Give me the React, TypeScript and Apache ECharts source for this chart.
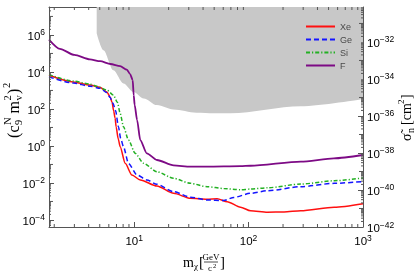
import React, { useEffect, useRef } from 'react';
import * as echarts from 'echarts';

// ---- data ----
const massXe = [1.8, 2.94, 4.11, 5.04, 5.77, 6.16, 6.41, 6.61, 6.81, 6.95, 7.24, 7.54, 8.34, 9.55, 11.3, 15.8, 22.1, 31, 43.4, 53.1, 65, 85, 104, 146, 204, 286, 560, 1000];
const limitXe = [6600, 2900, 1950, 1450, 832, 447, 224, 79.4, 31.6, 11.0, 2.51, 0.912, 0.115, 0.0269, 0.0145, 0.00676, 0.00275, 0.00148, 0.00132, 0.00141, 0.000977, 0.00049, 0.000316, 0.000263, 0.000269, 0.000316, 0.00049, 0.000759];

const massGe = [1.8, 2.94, 4.11, 5.04, 5.77, 6.16, 6.54, 6.88, 7.28, 7.62, 8.06, 8.91, 10.6, 12.9, 15.8, 22.1, 31, 43.4, 60.7, 74.3, 104, 146, 286, 560, 1000];
const limitGe = [5400, 2500, 1700, 1300, 759, 417, 200, 79.4, 11.0, 2.51, 0.912, 0.115, 0.0269, 0.0145, 0.00851, 0.00339, 0.0017, 0.0012, 0.00112, 0.00166, 0.00275, 0.0038, 0.0063, 0.00955, 0.012];

const massSi = [1.8, 2.94, 4.11, 4.71, 5.77, 6.58, 7.14, 7.54, 8.06, 8.91, 10.2, 12.1, 15.8, 22.1, 31, 43.4, 60.7, 85, 104, 146, 286, 560, 1000];
const limitSi = [7200, 3200, 2200, 1700, 1050, 562, 224, 57.5, 11.0, 2.09, 0.398, 0.115, 0.0407, 0.0178, 0.00955, 0.0063, 0.005, 0.00427, 0.00468, 0.0055, 0.0087, 0.0132, 0.0186];

const massF = [1.8, 2.24, 3.0, 4.1, 5.04, 6.2, 7.54, 8.63, 9.22, 9.7, 9.9, 10.1, 10.6, 11.3, 12.9, 15.8, 22.1, 31, 43.4, 85, 104, 286, 557, 1000];
const limitF = [562000, 178000, 83200, 47900, 38000, 26900, 20400, 13200, 7590, 3630, 562, 162, 25.1, 2.09, 0.398, 0.174, 0.0891, 0.0759, 0.0759, 0.0813, 0.0851, 0.141, 0.214, 0.324];

const massExcl = [4.7, 5.38, 6.58, 8.05, 9.86, 12.1, 15.8, 22.1, 35, 50, 69.5, 286, 1000];
const limitExcl = [1230000, 148000, 12300, 2400, 832, 372, 162, 93, 63, 58, 59, 141, 347];

const seriesNames = ['Xe', 'Ge', 'Si', 'F'];
const seriesColors = ['#ff1010', '#1414ff', '#22b022', '#7d0a85'];

// axis ranges (decimal exponents)
const X_MIN = 1.8;
const X_MAX = 1000;
const L_MIN = -4.38;
const L_MAX = 7.51;
const R_MIN = -42;
const R_MAX = -30.11;

const SANS = 'Liberation Sans, Arial, sans-serif';
const SERIF = 'Liberation Serif, Times New Roman, serif';

const sup = (n: number) => String(n).replace('-', '\u2212');
const isInt = (v: number) => Math.abs(v - Math.round(v)) < 1e-6;

const tickRich = {
  b: { fontSize: 11.5, fontFamily: SANS, color: '#000', verticalAlign: 'bottom' },
  s: { fontSize: 8.5, fontFamily: SANS, color: '#000', verticalAlign: 'top', lineHeight: 14 },
};

function minorXValues() {
  const out: number[] = [];
  for (let k = 0; k <= 3; k++) {
    for (let m = 2; m <= 9; m++) {
      const v = m * Math.pow(10, k);
      if (v > X_MIN && v < X_MAX) out.push(v);
    }
  }
  return out;
}
function minorYValues(lo: number, hi: number) {
  const out: { v: number; odd: boolean }[] = [];
  for (let e = Math.floor(lo) - 1; e <= Math.ceil(hi); e++) {
    for (let m = 1; m <= 9; m++) {
      const v = e + Math.log10(m);
      if (v <= lo + 1e-6 || v >= hi - 1e-6) continue;
      if (m === 1 && e % 2 === 0) continue;
      out.push({ v, odd: m === 1 });
    }
  }
  return out;
}

const toPairs = (xs: number[], ys: number[]) => xs.map((x, i) => [x, Math.log10(ys[i])]);

const txt = (x: number, y: number, text: string, size: number, extra: any = {}) => ({
  type: 'text',
  x,
  y,
  style: { text, font: `${size}px ${SERIF}`, fill: '#000', verticalAlign: 'middle', ...extra },
});

export default function App() {
  const ref = useRef<HTMLDivElement>(null);
  useEffect(() => {
    if (!ref.current) return;
    const chart = echarts.init(ref.current, undefined, { renderer: 'svg' });
    const minorX = minorXValues();
    const minorL = minorYValues(L_MIN, L_MAX);
    const minorR = minorYValues(R_MIN, R_MAX);
    const lineColor = '#555';

    const curve = (i: number, xs: number[], ys: number[], lineStyle: any) => ({
      name: seriesNames[i],
      type: 'line',
      data: toPairs(xs, ys),
      symbol: 'none',
      smooth: 0.25,
      smoothMonotone: 'x',
      color: seriesColors[i],
      lineStyle: { color: seriesColors[i], ...lineStyle },
      z: 5 + i,
    });

    const axisLine = { onZero: false, show: true, lineStyle: { color: lineColor, width: 1 } };
    const axisTick = { show: true, inside: true, length: 5, lineStyle: { color: lineColor } };

    const option: any = {
      animation: false,
      grid: { left: 49, right: 54, top: 7, bottom: 46, containLabel: false },
      legend: {
        data: seriesNames,
        orient: 'vertical',
        left: 305,
        top: 22,
        padding: 0,
        itemWidth: 29,
        itemHeight: 10,
        itemGap: 4,
        itemStyle: { opacity: 0 },
        textStyle: { fontSize: 9, color: '#4a4a4a', fontFamily: SANS },
      },
      xAxis: [
        {
          type: 'log',
          logBase: 10,
          min: X_MIN,
          max: X_MAX,
          position: 'bottom',
          axisLine,
          axisTick,
          splitLine: { show: false },
          axisLabel: {
            margin: 6,
            formatter: (v: number) => {
              const e = Math.log10(v);
              return isInt(e) ? `{b|10}{s|${sup(Math.round(e))}}` : '';
            },
            rich: tickRich,
          },
        },
        {
          type: 'log',
          logBase: 10,
          min: X_MIN,
          max: X_MAX,
          position: 'top',
          axisLine,
          axisTick,
          splitLine: { show: false },
          axisLabel: { show: false },
        },
      ],
      yAxis: [
        {
          type: 'value',
          min: L_MIN,
          max: L_MAX,
          position: 'left',
          axisLine,
          axisTick,
          splitLine: { show: false },
          axisLabel: {
            margin: 4,
            formatter: (v: number) => (isInt(v) && Math.round(v) % 2 === 0 ? `{b|10}{s|${sup(Math.round(v))}}` : ''),
            rich: tickRich,
          },
        },
        {
          type: 'value',
          min: R_MIN,
          max: R_MAX,
          position: 'right',
          axisLine,
          axisTick,
          splitLine: { show: false },
          axisLabel: {
            margin: 4,
            formatter: (v: number) => (isInt(v) && Math.round(v) % 2 === 0 ? `{b|10}{s|${sup(Math.round(v))}}` : ''),
            rich: tickRich,
          },
        },
      ],
      series: [
        {
          name: 'excluded',
          type: 'line',
          data: toPairs(massExcl, limitExcl),
          symbol: 'none',
          smooth: 0.3,
          smoothMonotone: 'x',
          lineStyle: { width: 0, color: '#c8c8c8' },
          areaStyle: { color: '#c8c8c8', opacity: 1, origin: 'end' },
          z: 1,
        },
        curve(0, massXe, limitXe, { width: 1.5, type: 'solid' }),
        curve(1, massGe, limitGe, { width: 1.5, type: [5, 3] }),
        curve(2, massSi, limitSi, { width: 1.5, type: [4, 2, 1.2, 2] }),
        curve(3, massF, limitF, { width: 1.8, type: 'solid' }),
        {
          name: 'minorL',
          type: 'custom',
          xAxisIndex: 0,
          yAxisIndex: 0,
          data: [[10, 0]],
          silent: true,
          z: 20,
          renderItem: (params: any, api: any) => {
            const cs = params.coordSys;
            const children: any[] = [];
            const st = { stroke: lineColor, lineWidth: 1 };
            minorX.forEach((v) => {
              const p = api.coord([v, 0]);
              children.push({ type: 'line', shape: { x1: p[0], y1: cs.y + cs.height, x2: p[0], y2: cs.y + cs.height - 3 }, style: st });
              children.push({ type: 'line', shape: { x1: p[0], y1: cs.y, x2: p[0], y2: cs.y + 3 }, style: st });
            });
            minorL.forEach((t) => {
              const p = api.coord([10, t.v]);
              const len = t.odd ? 4 : 2;
              children.push({ type: 'line', shape: { x1: cs.x, y1: p[1], x2: cs.x + len, y2: p[1] }, style: st });
            });
            return { type: 'group', children };
          },
        },
        {
          name: 'minorR',
          type: 'custom',
          xAxisIndex: 0,
          yAxisIndex: 1,
          data: [[10, -40]],
          silent: true,
          z: 20,
          renderItem: (params: any, api: any) => {
            const cs = params.coordSys;
            const children: any[] = [];
            const st = { stroke: lineColor, lineWidth: 1 };
            minorR.forEach((t) => {
              const p = api.coord([10, t.v]);
              const len = t.odd ? 4 : 2;
              const xr = cs.x + cs.width;
              children.push({ type: 'line', shape: { x1: xr, y1: p[1], x2: xr - len, y2: p[1] }, style: st });
            });
            return { type: 'group', children };
          },
        },
      ],
      graphic: [
        // left axis title: (c_9^N m_v^2)^2
        {
          type: 'group',
          x: 13,
          y: 138,
          rotation: Math.PI / 2,
          children: [
            txt(0, 0, '(', 16),
            txt(5.5, 0, 'c', 16),
            txt(13, -5.5, 'N', 10.5),
            txt(13, 5.5, '9', 10.5),
            txt(24.5, 0, 'm', 16),
            txt(37.5, -5.5, '2', 10.5),
            txt(37.5, 5.5, 'v', 10.5),
            txt(44, 0, ')', 16),
            txt(50, -6.5, '2', 10.5),
          ],
        },
        // right axis title: sigma_n [cm^2]
        {
          type: 'group',
          x: 406,
          y: 141,
          rotation: Math.PI / 2,
          children: [
            txt(0, 0, 'σ\u0303', 14),
            txt(8, 4.5, 'n', 10),
            txt(16, 0, '[cm', 14),
            txt(37, -5.5, '2', 9),
            txt(42, 0, ']', 14),
          ],
        },
        // x axis title: m_chi [GeV / c^2]
        txt(183, 262, 'm', 14),
        txt(194, 266, 'χ', 9),
        txt(199, 262, '[', 15),
        txt(211, 257, 'GeV', 9, { align: 'center' }),
        { type: 'line', shape: { x1: 204, y1: 262, x2: 218, y2: 262 }, style: { stroke: '#000', lineWidth: 0.7 } },
        txt(210, 267.5, 'c', 9, { align: 'center' }),
        txt(213, 265, '2', 6.5),
        txt(220, 262, ']', 15),
      ],
    };
    chart.setOption(option);
    return () => chart.dispose();
  }, []);
  return <div ref={ref} style={{ position: 'fixed', left: 0, top: 0, width: 417, height: 273 }} />;
}
